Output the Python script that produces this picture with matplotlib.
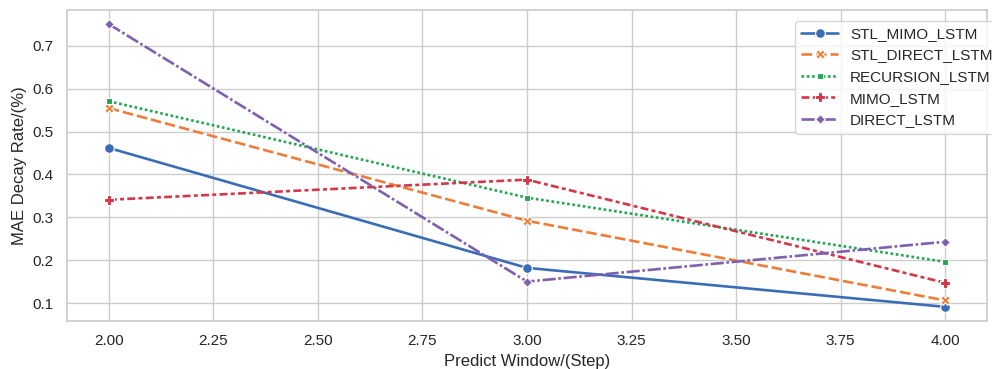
import numpy as np
import pandas as pd
import matplotlib
matplotlib.use('Agg')
import matplotlib.pyplot as plt
import seaborn as sns

steps = [2, 3, 4]
models = ['STL_MIMO_LSTM', 'STL_DIRECT_LSTM', 'RECURSION_LSTM', 'MIMO_LSTM', 'DIRECT_LSTM']
stl_mimo = [0.462, 0.182, 0.091]
stl_direct = [0.555, 0.292, 0.106]
recursion = [0.571, 0.346, 0.196]
mimo = [0.341, 0.388, 0.147]
direct = [0.751, 0.150, 0.243]
colors = ['#3a6db5', '#ee7d3a', '#22a652', '#d4364a', '#7f60b0']

sns.set_theme(style='whitegrid')
plt.rcParams['font.family'] = ['Liberation Sans', 'DejaVu Sans']

df = pd.DataFrame({'Step': steps, 'STL_MIMO_LSTM': stl_mimo, 'STL_DIRECT_LSTM': stl_direct,
                   'RECURSION_LSTM': recursion, 'MIMO_LSTM': mimo, 'DIRECT_LSTM': direct})
df = df.set_index('Step')[models]

fig = plt.figure(figsize=(9.92, 3.69), dpi=100)
ax = fig.add_axes([67/992, 48/369, 920/992, 311/369])
sns.lineplot(data=df, markers=True, palette=colors, linewidth=1.9, markersize=7,
             markeredgewidth=0.8, ax=ax)
ax.set_xlabel('Predict Window/(Step)')
ax.set_ylabel('MAE Decay Rate/(%)')
ax.xaxis.set_major_formatter(matplotlib.ticker.FormatStrFormatter('%.2f'))
ax.legend(loc='upper right', bbox_to_anchor=(1.021, 0.99), handlelength=2.4)
fig.savefig('out.png', dpi=100)
